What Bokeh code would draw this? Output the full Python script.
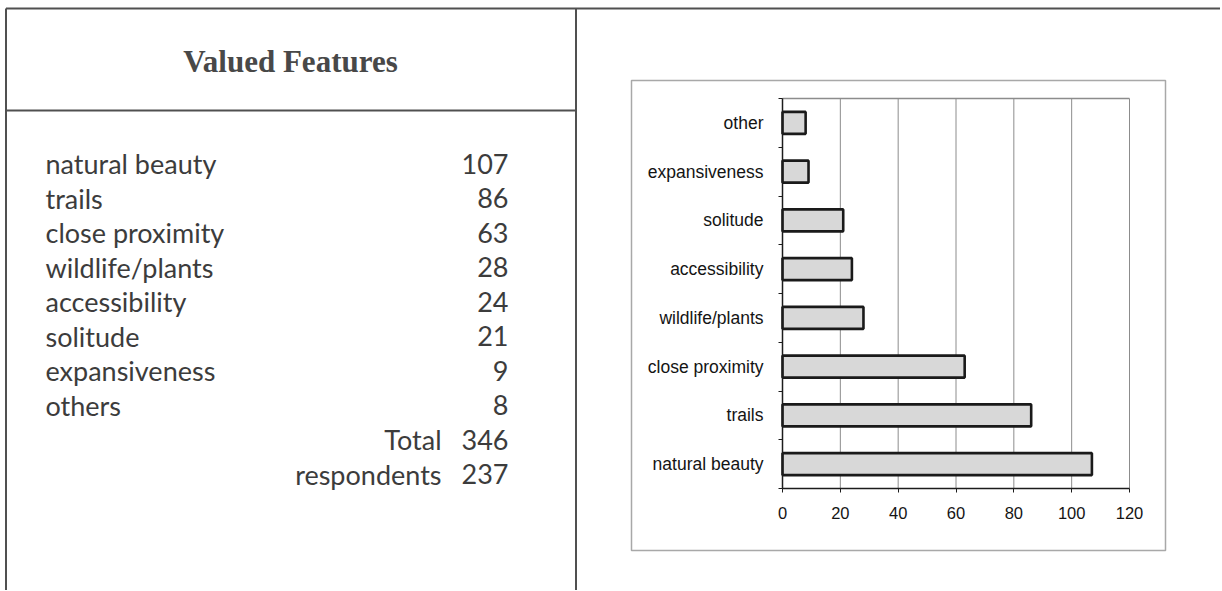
import numpy as np
from bokeh.plotting import figure
from bokeh.models import Range1d, FixedTicker, ColumnDataSource, LinearAxis
from bokeh.core.properties import value
from bokeh.embed import file_html
from bokeh.resources import INLINE

# ---------------- data ----------------
title_text = "Valued Features"
table_labels = ["natural beauty", "trails", "close proximity", "wildlife/plants",
                "accessibility", "solitude", "expansiveness", "others"]
table_counts = [107, 86, 63, 28, 24, 21, 9, 8]
summary_labels = ["Total", "respondents"]
summary_values = [346, 237]

chart_categories = ["natural beauty", "trails", "close proximity", "wildlife/plants",
                    "accessibility", "solitude", "expansiveness", "other"]
chart_values = [107, 86, 63, 28, 24, 21, 9, 8]
x_ticks = [0, 20, 40, 60, 80, 100, 120]

# ---------------- page geometry (pixels) ----------------
W, H = 1220, 590
RULE = "#505050"
TXT = "#3c3c3c"

# chart plot-area placement
PA_L, PA_R, PA_T, PA_B = 782, 1129, 98, 488
ncat = len(chart_categories)
xmax = x_ticks[-1]
kx = (PA_R - PA_L) / xmax
band = (PA_B - PA_T) / ncat

p = figure(width=W, height=H, x_range=Range1d(0, W), y_range=Range1d(H, 0),
           x_axis_location=None, y_axis_location=None,
           output_backend="svg", toolbar_location=None,
           min_border=0, min_border_left=0, min_border_right=0,
           min_border_top=0, min_border_bottom=0)
p.grid.visible = False
p.outline_line_color = None
p.background_fill_color = "white"
p.border_fill_color = "white"

p.extra_x_ranges = {"cx": Range1d(-PA_L / kx, (W - PA_L) / kx)}
p.extra_y_ranges = {"cy": Range1d((PA_B - H) / band, PA_B / band)}

# ---------------- table (left cell) ----------------
p.segment(x0=[5.5, 5.5, 5.5, 575.5], y0=[8, 8, 110, 8],
          x1=[W, 5.5, 575.5, 575.5], y1=[8, H, 110, H],
          line_color=RULE, line_width=2)

p.text(x=[290], y=[61], text=[title_text], text_align="center", text_baseline="middle",
       text_font=value("Liberation Serif"), text_font_style="bold",
       text_font_size="31px", text_color="#484848")

row_y0, row_step = 163, 34.5
rows_y = [row_y0 + i * row_step for i in range(len(table_labels))]
src = ColumnDataSource(dict(y=rows_y, label=table_labels,
                            count=[str(c) for c in table_counts]))
tkw = dict(text_baseline="middle", text_font=value("Lato"),
           text_font_size="27px", text_color=TXT)
p.text(x=45, y="y", text="label", source=src, text_align="left", **tkw)
p.text(x=508, y="y", text="count", source=src, text_align="right", **tkw)

sum_y = [row_y0 + (len(table_labels) + i) * row_step for i in range(len(summary_labels))]
src2 = ColumnDataSource(dict(y=sum_y, label=summary_labels,
                             val=[str(v) for v in summary_values]))
p.text(x=441, y="y", text="label", source=src2, text_align="right", **tkw)
p.text(x=508, y="y", text="val", source=src2, text_align="right", **tkw)

# ---------------- chart (right cell) ----------------
# outer chart box
p.quad(left=[631], right=[1165], top=[80], bottom=[550],
       fill_color=None, line_color="#a8a8a8", line_width=1.5)

ypos = list(np.arange(ncat) + 0.5)

# vertical gridlines + plot-area top border
p.segment(x0=x_ticks, x1=x_ticks, y0=[0] * len(x_ticks), y1=[ncat] * len(x_ticks),
          x_range_name="cx", y_range_name="cy", line_color="#8c8c8c", line_width=1)
p.segment(x0=[0], x1=[xmax], y0=[ncat], y1=[ncat],
          x_range_name="cx", y_range_name="cy", line_color="#8c8c8c", line_width=1.5)

bars = ColumnDataSource(dict(y=ypos, v=chart_values, cat=chart_categories))
p.hbar(y="y", right="v", left=0, height=0.45, source=bars,
       x_range_name="cx", y_range_name="cy",
       fill_color="#d8d8d8", line_color="#1a1a1a", line_width=2.6)

xa = LinearAxis(x_range_name="cx", y_range_name="cy", fixed_location=0, bounds=(0, xmax),
                ticker=FixedTicker(ticks=x_ticks))
xa.axis_line_color = "#1c1c1c"
xa.axis_line_width = 1.5
xa.major_tick_line_color = "#1c1c1c"
xa.major_tick_out = 4
xa.major_tick_in = 0
xa.minor_tick_line_color = None
xa.major_label_standoff = 14
xa.major_label_text_font = "Liberation Sans"
xa.major_label_text_font_size = "16.5px"
xa.major_label_text_color = "#141414"
p.add_layout(xa, "below")

ya = LinearAxis(x_range_name="cx", y_range_name="cy", fixed_location=0, bounds=(0, ncat),
                ticker=FixedTicker(ticks=ypos, minor_ticks=list(range(ncat + 1))))
ya.major_label_overrides = {float(yv): c for yv, c in zip(ypos, chart_categories)}
ya.axis_line_color = "#1c1c1c"
ya.axis_line_width = 1.5
ya.major_tick_line_color = None
ya.major_tick_out = 0
ya.major_tick_in = 0
ya.minor_tick_line_color = "#1c1c1c"
ya.minor_tick_out = 4
ya.minor_tick_in = 0
ya.major_label_standoff = 15
ya.major_label_text_font = "Liberation Sans"
ya.major_label_text_font_size = "17.5px"
ya.major_label_text_color = "#141414"
p.add_layout(ya, "left")

open("out.html", "w").write(file_html(p, INLINE))
